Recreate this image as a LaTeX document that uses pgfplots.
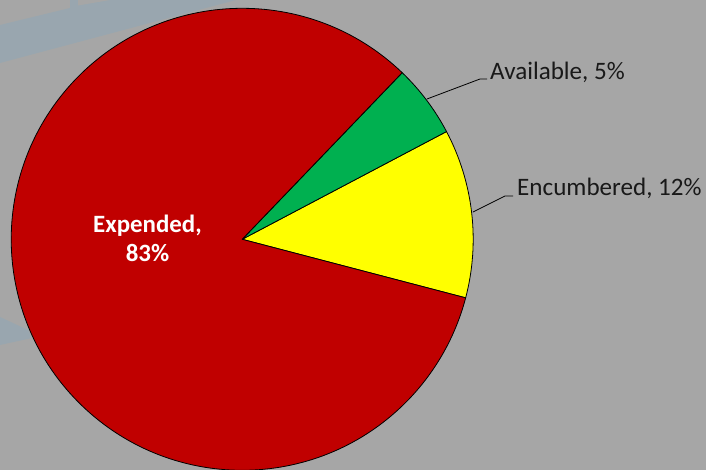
\documentclass[border=0pt]{standalone}
\usepackage{pgfplots}
\usepackage{pgfplotstable}
\pgfplotsset{compat=1.18}
\usepackage{fontspec}
\setmainfont{Carlito}
\definecolor{bg}{HTML}{A6A6A6}
\definecolor{stripe}{HTML}{99A6AF}
\definecolor{pred}{HTML}{C00000}
\definecolor{pgreen}{HTML}{00B050}
\definecolor{pyellow}{HTML}{FFFF00}
\pgfplotstableread{
label value
Encumbered 11.8
Available 5.1
Expended 83.1
}\piedata
\begin{document}
\begin{tikzpicture}
\pgfplotstablegetelem{0}{value}\of\piedata \let\vA\pgfplotsretval
\pgfplotstablegetelem{1}{value}\of\piedata \let\vB\pgfplotsretval
\pgfplotstablegetelem{2}{value}\of\piedata \let\vC\pgfplotsretval
\pgfmathsetmacro\aA{-14.68}
\pgfmathsetmacro\aB{\aA+3.6*\vA}
\pgfmathsetmacro\aC{\aB+3.6*\vB}
\pgfmathsetmacro\aD{\aC+3.6*\vC}
\begin{axis}[
  width=706bp, height=470bp, scale only axis,
  xmin=0, xmax=706, ymin=0, ymax=470,
  hide axis, clip=true,
]
% background
\fill[bg] (axis cs:0,0) rectangle (axis cs:706,470);
\fill[stripe] (axis cs:0,445) -- (axis cs:70,462) -- (axis cs:70,470) -- (axis cs:236,470) -- (axis cs:0,407) -- cycle;
\fill[bg] (axis cs:78,470) -- (axis cs:110,470) -- (axis cs:78,464.5) -- cycle;
\fill[stripe] (axis cs:0,153) -- (axis cs:28,140) -- (axis cs:32,132) -- (axis cs:0,125) -- cycle;
% pie
\filldraw[fill=pyellow, draw=black, line width=0.8bp, line join=round] (axis cs:242.2,230.7) -- ++(\aA:231bp) arc[start angle=\aA, end angle=\aB, radius=231bp] -- cycle;
\filldraw[fill=pgreen, draw=black, line width=0.8bp, line join=round] (axis cs:242.2,230.7) -- ++(\aB:231bp) arc[start angle=\aB, end angle=\aC, radius=231bp] -- cycle;
\filldraw[fill=pred, draw=black, line width=0.8bp, line join=round] (axis cs:242.2,230.7) -- ++(\aC:231bp) arc[start angle=\aC, end angle=\aD, radius=231bp] -- cycle;
% leader lines
\draw[black, line width=0.8bp] (axis cs:427,371) -- (axis cs:480,391) -- (axis cs:487,391);
\draw[black, line width=0.8bp] (axis cs:473,258) -- (axis cs:505,274) -- (axis cs:513,274);
% labels
\node[anchor=base west, inner sep=0pt, text=black!90, font=\fontsize{25.2}{29}\selectfont] at (axis cs:490,390.7) {Available, 5\%};
\node[anchor=base west, inner sep=0pt, text=black!90, font=\fontsize{25.2}{29}\selectfont] at (axis cs:517,274) {Encumbered, 12\%};
\node[anchor=base, inner sep=0pt, text=white, font=\bfseries\fontsize{25}{29}\selectfont] at (axis cs:147.5,237) {Expended,};
\node[anchor=base, inner sep=0pt, text=white, font=\bfseries\fontsize{25}{29}\selectfont] at (axis cs:147.5,208) {83\%};
\end{axis}
\end{tikzpicture}
\end{document}
